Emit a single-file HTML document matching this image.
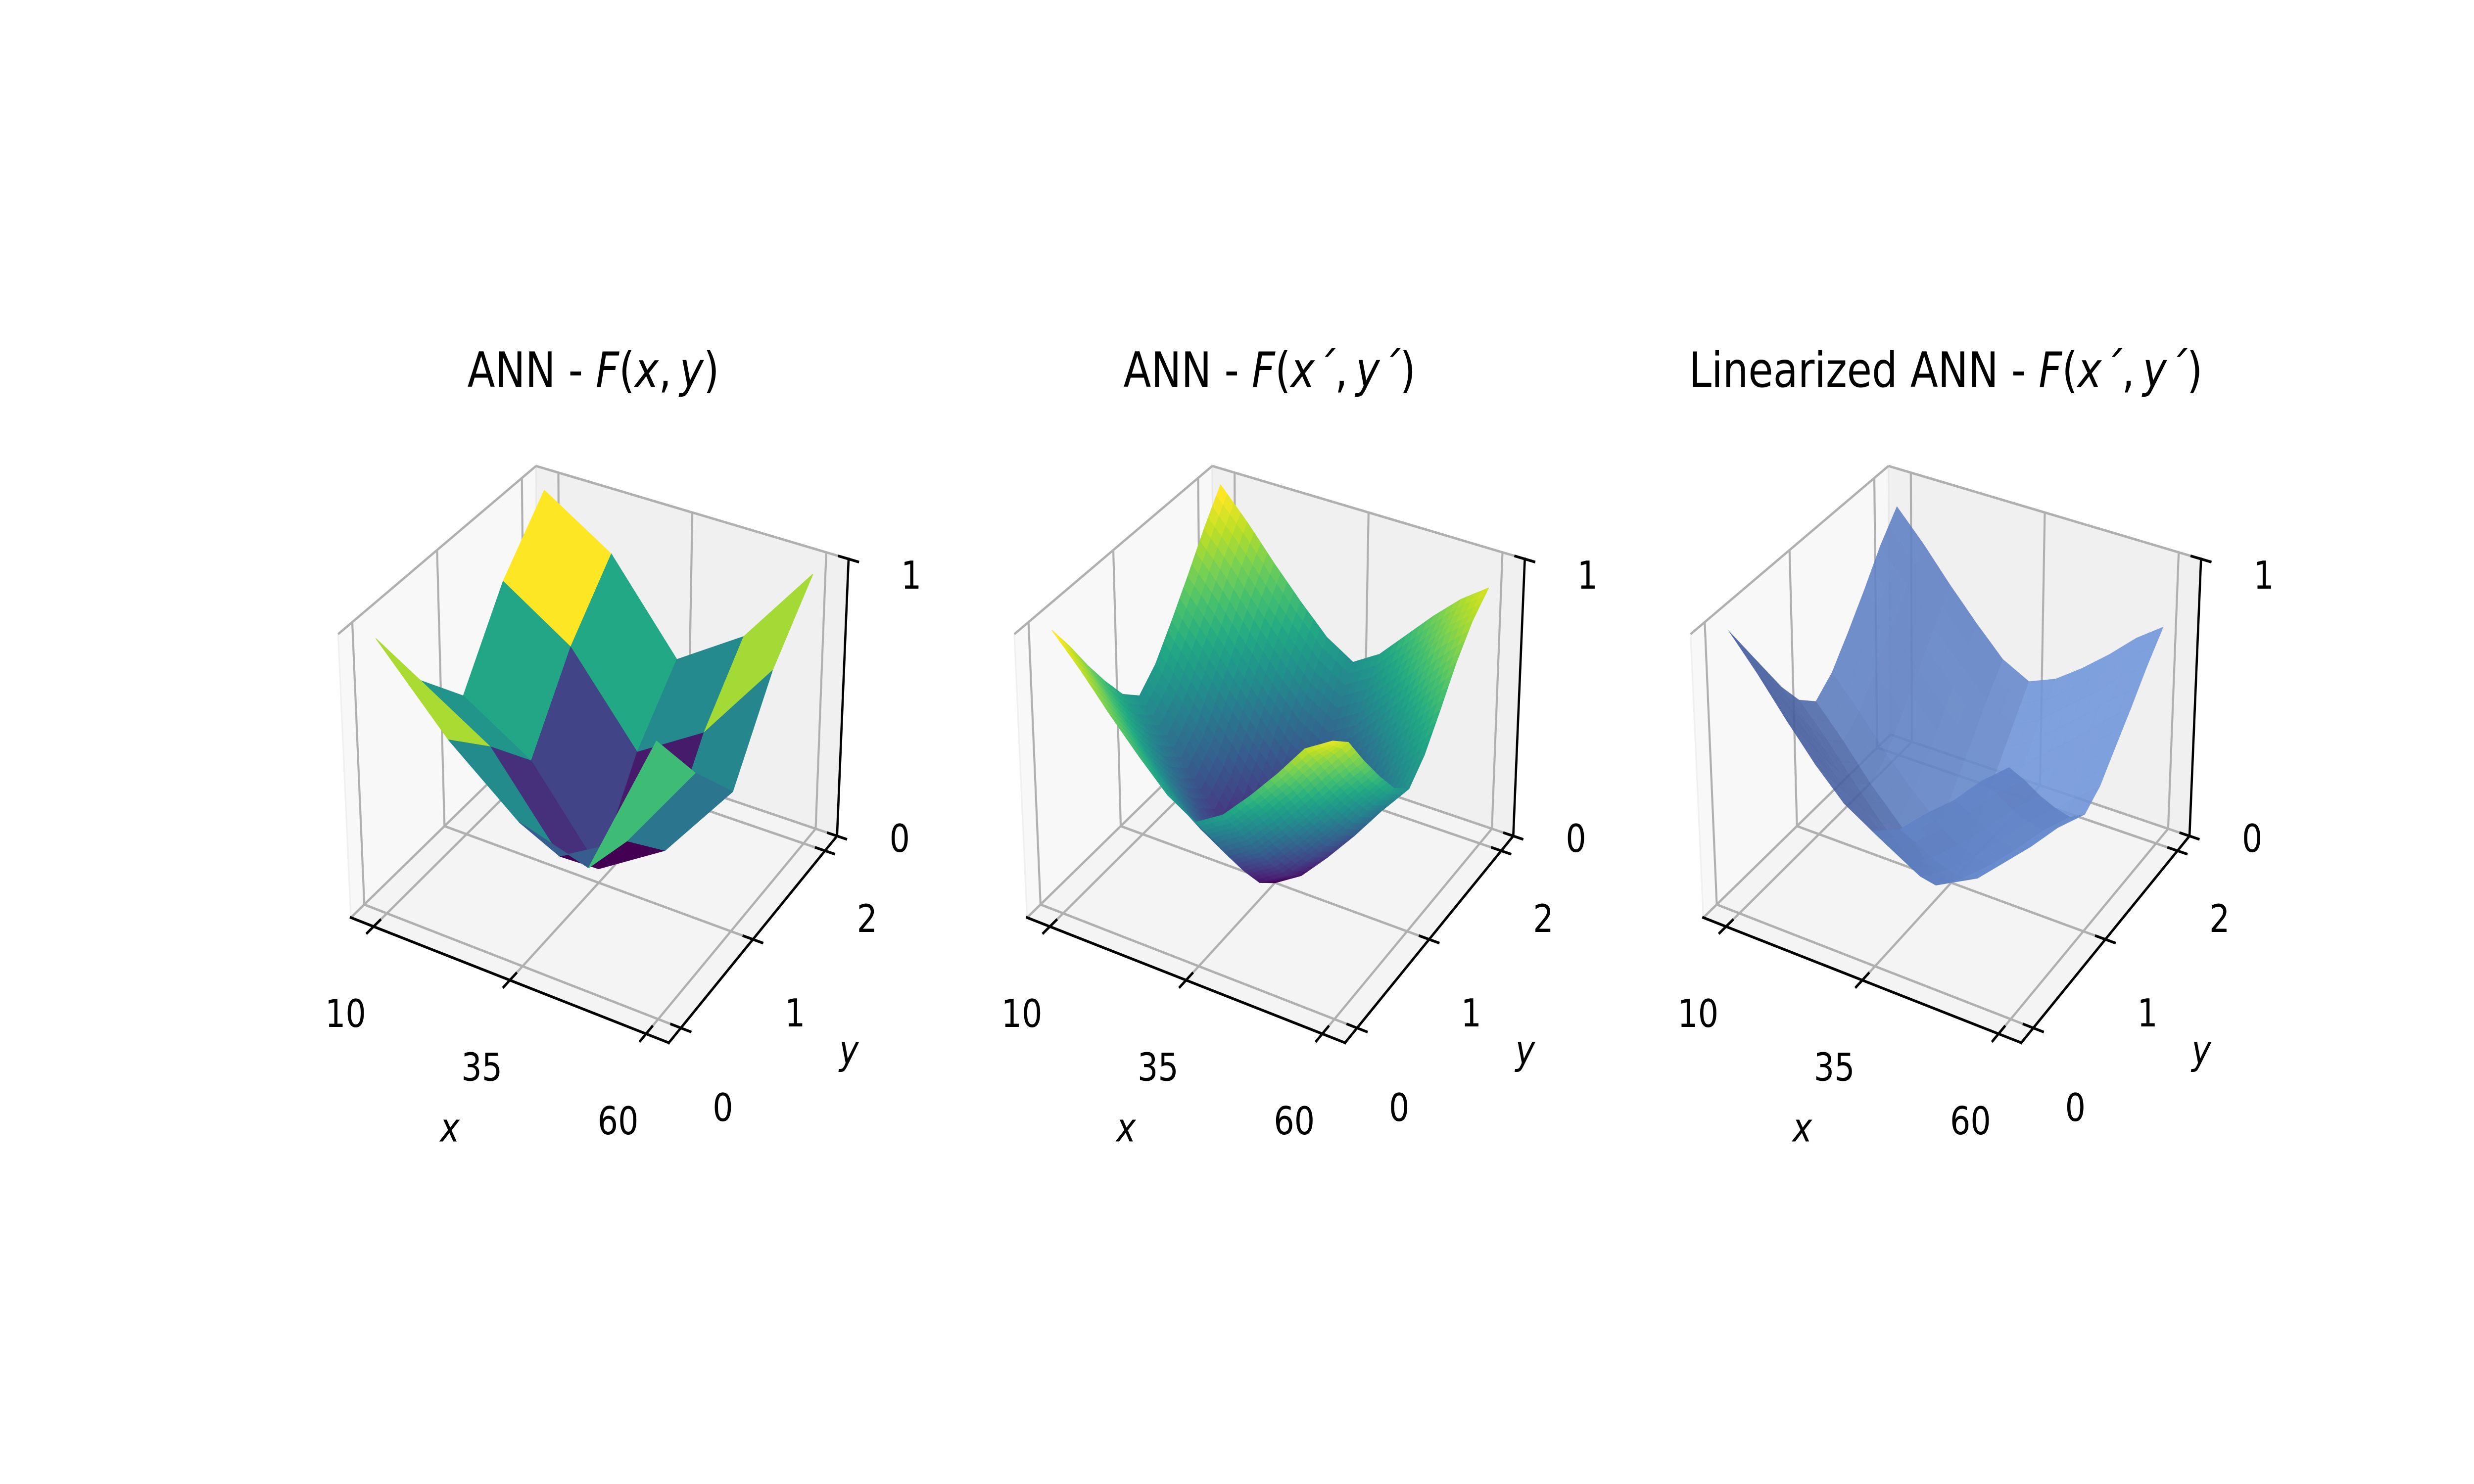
<!DOCTYPE html>
<html>
<head>
<meta charset="utf-8">
<style>
  html, body { margin: 0; padding: 0; background: #ffffff; overflow: hidden; width: 100%; height: 100%; }
  svg { display: block; width: 100vw; height: 100vh; }
  text { font-family: "DejaVu Sans", "Liberation Sans", sans-serif; fill: #000; }
</style>
</head>
<body>
<svg id="fig" xmlns="http://www.w3.org/2000/svg" viewBox="0 0 6000 3000" preserveAspectRatio="none">
  <rect x="0" y="0" width="6000" height="3000" fill="#ffffff"></rect>
</svg>
<script>
// ---------------- data ----------------
const xTicks = [10, 35, 60];
const yTicks = [0, 1, 2];
const zTicks = [0, 1];
const xLim = [5.83, 64.17];
const yLim = [-0.167, 2.167];
const zLim = [0, 1];

// panel 1 : coarse ANN surface, rows = y, cols = x
const gridX1 = [10, 22.5, 35, 47.5, 60];
const gridY1 = [0, 0.5, 1, 1.5, 2];
const zAnn = [
  [0.97, 0.70, 0.50, 0.43, 0.95],
  [0.69, 0.54, 0.24, 0.38, 0.70],
  [0.50, 0.35, 0.05, 0.20, 0.49],
  [0.78, 0.62, 0.32, 0.47, 0.77],
  [0.98, 0.82, 0.51, 0.67, 0.97]
];

// panels 2 & 3 : fine grid
const gridX2 = [10, 15, 20, 25, 30, 35, 40, 45, 50, 55, 60];
const gridY2 = [0, 0.2, 0.4, 0.6, 0.8, 1.0, 1.2, 1.4, 1.6, 1.8, 2.0];
const zAnnPrime = [
  [1.00,0.89,0.77,0.66,0.56,0.50,0.56,0.66,0.77,0.89,0.95],
  [0.89,0.78,0.66,0.55,0.45,0.39,0.45,0.55,0.66,0.78,0.89],
  [0.77,0.66,0.54,0.43,0.33,0.27,0.33,0.43,0.54,0.66,0.77],
  [0.66,0.55,0.43,0.32,0.22,0.16,0.22,0.32,0.43,0.55,0.66],
  [0.56,0.45,0.33,0.22,0.12,0.06,0.12,0.22,0.33,0.45,0.56],
  [0.50,0.39,0.27,0.16,0.06,0.00,0.06,0.16,0.27,0.39,0.50],
  [0.56,0.45,0.33,0.22,0.12,0.06,0.12,0.22,0.33,0.45,0.56],
  [0.66,0.55,0.43,0.32,0.22,0.16,0.22,0.32,0.43,0.55,0.66],
  [0.77,0.66,0.54,0.43,0.33,0.27,0.33,0.43,0.54,0.66,0.77],
  [0.89,0.78,0.66,0.55,0.45,0.39,0.45,0.55,0.66,0.78,0.86],
  [1.00,0.89,0.77,0.66,0.56,0.50,0.56,0.66,0.76,0.85,0.92]
];
const zLinear = [
  [1.00,0.88,0.75,0.63,0.53,0.47,0.51,0.60,0.68,0.78,0.86],
  [0.88,0.76,0.64,0.52,0.42,0.36,0.41,0.49,0.58,0.68,0.76],
  [0.76,0.64,0.52,0.41,0.31,0.25,0.30,0.38,0.47,0.57,0.65],
  [0.64,0.53,0.41,0.30,0.20,0.14,0.20,0.28,0.37,0.47,0.55],
  [0.54,0.43,0.31,0.20,0.11,0.05,0.11,0.19,0.28,0.38,0.46],
  [0.48,0.37,0.25,0.15,0.05,0.00,0.05,0.14,0.23,0.33,0.41],
  [0.53,0.42,0.30,0.20,0.11,0.05,0.10,0.19,0.28,0.37,0.45],
  [0.62,0.51,0.39,0.29,0.20,0.14,0.19,0.27,0.36,0.45,0.53],
  [0.72,0.61,0.49,0.38,0.29,0.23,0.28,0.36,0.44,0.53,0.61],
  [0.83,0.71,0.59,0.49,0.39,0.33,0.38,0.46,0.54,0.63,0.70],
  [0.92,0.81,0.69,0.58,0.48,0.43,0.47,0.54,0.62,0.71,0.78]
];

// ---------------- geometry ----------------
const NS = "http://www.w3.org/2000/svg";
const svg = document.getElementById("fig");
const PANEL_DX = 1640;
const CORNERS = {
  "000": [851, 1855], "100": [1622, 2108], "110": [2030, 1690], "010": [1305, 1485],
  "001": [820, 1282], "101": [1617, 1512], "111": [2058, 1130], "011": [1300, 942]
};
const EYE = [6.33, -5.5, 6.5];
const LIGHT = [-0.667, -0.667, 0.333];

function uvw(x, y, z) {
  return [(x - xLim[0]) / (xLim[1] - xLim[0]), (y - yLim[0]) / (yLim[1] - yLim[0]), (z - zLim[0]) / (zLim[1] - zLim[0])];
}
function proj(panel, x, y, z) {
  const [u, v, w] = uvw(x, y, z);
  let px = 0, py = 0;
  for (const key in CORNERS) {
    const a = +key[0], b = +key[1], c = +key[2];
    const wt = (a ? u : 1 - u) * (b ? v : 1 - v) * (c ? w : 1 - w);
    px += wt * CORNERS[key][0];
    py += wt * CORNERS[key][1];
  }
  return [px + panel * PANEL_DX, py];
}
function boxCoord(x, y, z) {
  const [u, v, w] = uvw(x, y, z);
  return [4 * u, 4 * v, 3 * w];
}
function mk(tag, attrs, parent) {
  const e = document.createElementNS(NS, tag);
  for (const k in attrs) e.setAttribute(k, attrs[k]);
  (parent || svg).appendChild(e);
  return e;
}
function ptsStr(arr) { return arr.map(p => p[0].toFixed(1) + "," + p[1].toFixed(1)).join(" "); }

const VIR = ["#440154","#482475","#414487","#355f8d","#2a788e","#21918c","#22a884","#44bf70","#7ad151","#bddf26","#fde725"];
function hexToRgb(h) { return [parseInt(h.substr(1,2),16), parseInt(h.substr(3,2),16), parseInt(h.substr(5,2),16)]; }
function viridis(t) {
  t = Math.max(0, Math.min(1, t));
  const s = t * 10, i = Math.min(9, Math.floor(s)), f = s - i;
  const a = hexToRgb(VIR[i]), b = hexToRgb(VIR[i + 1]);
  return "rgb(" + a.map((c, k) => Math.round(c + (b[k] - c) * f)).join(",") + ")";
}
function mixColor(c1, c2, t) {
  const a = hexToRgb(c1), b = hexToRgb(c2);
  return "rgb(" + a.map((c, k) => Math.round(c + (b[k] - c) * t)).join(",") + ")";
}

// ---------------- axes box ----------------
function drawBox(panel, g) {
  const P = (x, y, z) => proj(panel, x, y, z);
  const [xl, xh] = xLim, [yl, yh] = yLim, [zl, zh] = zLim;
  const leftPane = mk("polygon", { points: ptsStr([P(xl,yl,zl), P(xl,yh,zl), P(xl,yh,zh), P(xl,yl,zh)]), fill: "#f8f8f8", stroke: "#f0f0f0", "stroke-width": 4 }, g);
  
  
  const backPane = mk("polygon", { points: ptsStr([P(xl,yh,zl), P(xh,yh,zl), P(xh,yh,zh), P(xl,yh,zh)]), fill: "#f0f0f0", stroke: "#e8e8e8", "stroke-width": 4 }, g);
  
  
  const floorPane = mk("polygon", { points: ptsStr([P(xl,yl,zl), P(xh,yl,zl), P(xh,yh,zl), P(xl,yh,zl)]), fill: "#f4f4f4", stroke: "#ececec", "stroke-width": 4 }, g);
  
  

  const grid = mk("g", { stroke: "#b0b0b0", "stroke-width": 5, fill: "none" }, g);
  
  
  const line = (a, b, name) => {
    const l = mk("line", { x1: a[0], y1: a[1], x2: b[0], y2: b[1] }, grid);
    
    
  };
  xTicks.forEach(t => { line(P(t, yl, zl), P(t, yh, zl), "floor-grid-x-" + t); line(P(t, yh, zl), P(t, yh, zh), "back-grid-x-" + t); });
  yTicks.forEach(t => { line(P(xl, t, zl), P(xh, t, zl), "floor-grid-y-" + t); line(P(xl, t, zl), P(xl, t, zh), "left-grid-y-" + t); });
  zTicks.forEach(t => { line(P(xl, yh, t), P(xh, yh, t), "back-grid-z-" + t); line(P(xl, yl, t), P(xl, yh, t), "left-grid-z-" + t); });

  const ax = mk("g", { stroke: "#000", "stroke-width": 5.5, fill: "none", "stroke-linecap": "square" }, g);
  
  
  const axl = (a, b, name) => {
    const l = mk("line", { x1: a[0], y1: a[1], x2: b[0], y2: b[1] }, ax);
    
    
  };
  axl(P(xl, yl, zl), P(xh, yl, zl), "x-axis-line");
  axl(P(xh, yl, zl), P(xh, yh, zl), "y-axis-line");
  axl(P(xh, yh, zl), P(xh, yh, zh), "z-axis-line");
  const dy = (yh - yl) * 0.035, dx = (xh - xl) * 0.03;
  xTicks.forEach(t => axl(P(t, yl - dy, zl), P(t, yl + dy, zl), "x-tick-" + t));
  yTicks.forEach(t => axl(P(xh - dx, t, zl), P(xh + dx, t, zl), "y-tick-" + t));
  zTicks.forEach(t => axl(P(xh - dx, yh, t), P(xh + dx, yh, t), "z-tick-" + t));
}

// ---------------- surface ----------------
function drawSurface(panel, g, gx, gy, Z, mode, sub, name) {
  const sg = mk("g", {}, g);
  
  
  const quads = [];
  for (let j = 0; j < gy.length - 1; j++) {
    for (let i = 0; i < gx.length - 1; i++) {
      const z00 = Z[j][i], z10 = Z[j][i + 1], z01 = Z[j + 1][i], z11 = Z[j + 1][i + 1];
      for (let b = 0; b < sub; b++) {
        for (let a = 0; a < sub; a++) {
          const corner = (s, t) => {
            const x = gx[i] + (gx[i + 1] - gx[i]) * s;
            const y = gy[j] + (gy[j + 1] - gy[j]) * t;
            const z = (1 - s) * (1 - t) * z00 + s * (1 - t) * z10 + s * t * z11 + (1 - s) * t * z01;
            return [x, y, z];
          };
          const c = [corner(a / sub, b / sub), corner((a + 1) / sub, b / sub), corner((a + 1) / sub, (b + 1) / sub), corner(a / sub, (b + 1) / sub)];
          const mean = (c[0][2] + c[1][2] + c[2][2] + c[3][2]) / 4;
          const bc = c.map(p => boxCoord(p[0], p[1], p[2]));
          const cen = [0, 1, 2].map(k => (bc[0][k] + bc[1][k] + bc[2][k] + bc[3][k]) / 4);
          const depth = Math.hypot(cen[0] - EYE[0], cen[1] - EYE[1], cen[2] - EYE[2]);
          const d1 = [0, 1, 2].map(k => bc[2][k] - bc[0][k]);
          const d2 = [0, 1, 2].map(k => bc[3][k] - bc[1][k]);
          let n = [d1[1] * d2[2] - d1[2] * d2[1], d1[2] * d2[0] - d1[0] * d2[2], d1[0] * d2[1] - d1[1] * d2[0]];
          if (n[2] < 0) n = n.map(v => -v);
          const nl = Math.hypot(n[0], n[1], n[2]) || 1;
          const lit = (n[0] * LIGHT[0] + n[1] * LIGHT[1] + n[2] * LIGHT[2]) / nl;
          quads.push({ pts: c.map(p => proj(panel, p[0], p[1], p[2])), mean, depth, lit });
        }
      }
    }
  }
  const means = quads.map(q => q.mean), lits = quads.map(q => q.lit);
  const mn = Math.min(...means), mx = Math.max(...means);
  const ln = Math.min(...lits), lx = Math.max(...lits);
  quads.sort((p, q) => q.depth - p.depth);
  quads.forEach(q => {
    let fill, attrs;
    if (mode === "viridis") {
      fill = viridis((q.mean - mn) / (mx - mn));
      attrs = { points: ptsStr(q.pts), fill: fill, stroke: fill, "stroke-width": 1.5, "stroke-linejoin": "round" };
    } else {
      const t = Math.pow((q.lit - ln) / (lx - ln), 0.6);
      fill = mixColor("#41599a", "#7298da", t);
      attrs = { points: ptsStr(q.pts), fill: fill, "fill-opacity": 0.9, stroke: fill, "stroke-opacity": 0.3, "stroke-width": 0.8 };
    }
    const poly = mk("polygon", attrs, sg);
    
    
  });
}

// ---------------- labels ----------------
function drawLabels(panel, g, titleParts) {
  const P = (x, y, z) => proj(panel, x, y, z);
  const off = panel * PANEL_DX;
  xTicks.forEach(t => {
    const p = P(t, yLim[0], zLim[0]);
    const tx = mk("text", { x: p[0] - 68, y: p[1] + 176, "font-size": 78, "text-anchor": "middle", "dominant-baseline": "central" }, g);
    tx.textContent = String(t);
    
    
  });
  yTicks.forEach(t => {
    const p = P(xLim[1], t, zLim[0]);
    const tx = mk("text", { x: p[0] + 102, y: p[1] + 161 - 12 * t, "font-size": 78, "text-anchor": "middle", "dominant-baseline": "central" }, g);
    tx.textContent = String(t);
    
    
  });
  zTicks.forEach(t => {
    const p = P(xLim[1], yLim[1], t);
    const tx = mk("text", { x: p[0] + 152, y: p[1] + 5 + 28 * t, "font-size": 78, "text-anchor": "middle", "dominant-baseline": "central" }, g);
    tx.textContent = String(t);
    
    
  });
  const xl = mk("text", { x: 1091 + off, y: 2281, "font-size": 80, "font-style": "italic", "text-anchor": "middle", "dominant-baseline": "central" }, g);
  xl.textContent = "x";
  
  
  const yl = mk("text", { x: 2059 + off, y: 2124, "font-size": 80, "font-style": "italic", "text-anchor": "middle", "dominant-baseline": "central" }, g);
  yl.textContent = "y";
  
  

  const title = mk("text", { x: 1439 + off, y: 782, "font-size": 98, "text-anchor": "middle" }, g);
  
  
  titleParts.forEach(part => {
    const ts = mk("tspan", part[1] ? { "font-style": "italic" } : {}, title);
    ts.textContent = part[0];
  });
}

const TITLES = [
  [["ANN - ", 0], ["F", 1], ["(", 0], ["x", 1], [",\u2009", 0], ["y", 1], [")", 0]],
  [["ANN - ", 0], ["F", 1], ["(", 0], ["x\u00B4", 1], [",\u2009", 0], ["y\u00B4", 1], [")", 0]],
  [["Linearized ANN - ", 0], ["F", 1], ["(", 0], ["x\u00B4", 1], [",\u2009", 0], ["y\u00B4", 1], [")", 0]]
];
const PANEL_NAMES = ["ann-xy-panel", "ann-prime-panel", "linearized-ann-panel"];

for (let p = 0; p < 3; p++) {
  const g = mk("g", {});
  
  
  drawBox(p, g);
  if (p === 0) drawSurface(p, g, gridX1, gridY1, zAnn, "viridis", 1, "ann-surface");
  if (p === 1) drawSurface(p, g, gridX2, gridY2, zAnnPrime, "viridis", 4, "ann-prime-surface");
  if (p === 2) drawSurface(p, g, gridX2, gridY2, zLinear, "shade", 2, "linearized-surface");
  drawLabels(p, g, TITLES[p]);
}
</script>
</body>
</html>
